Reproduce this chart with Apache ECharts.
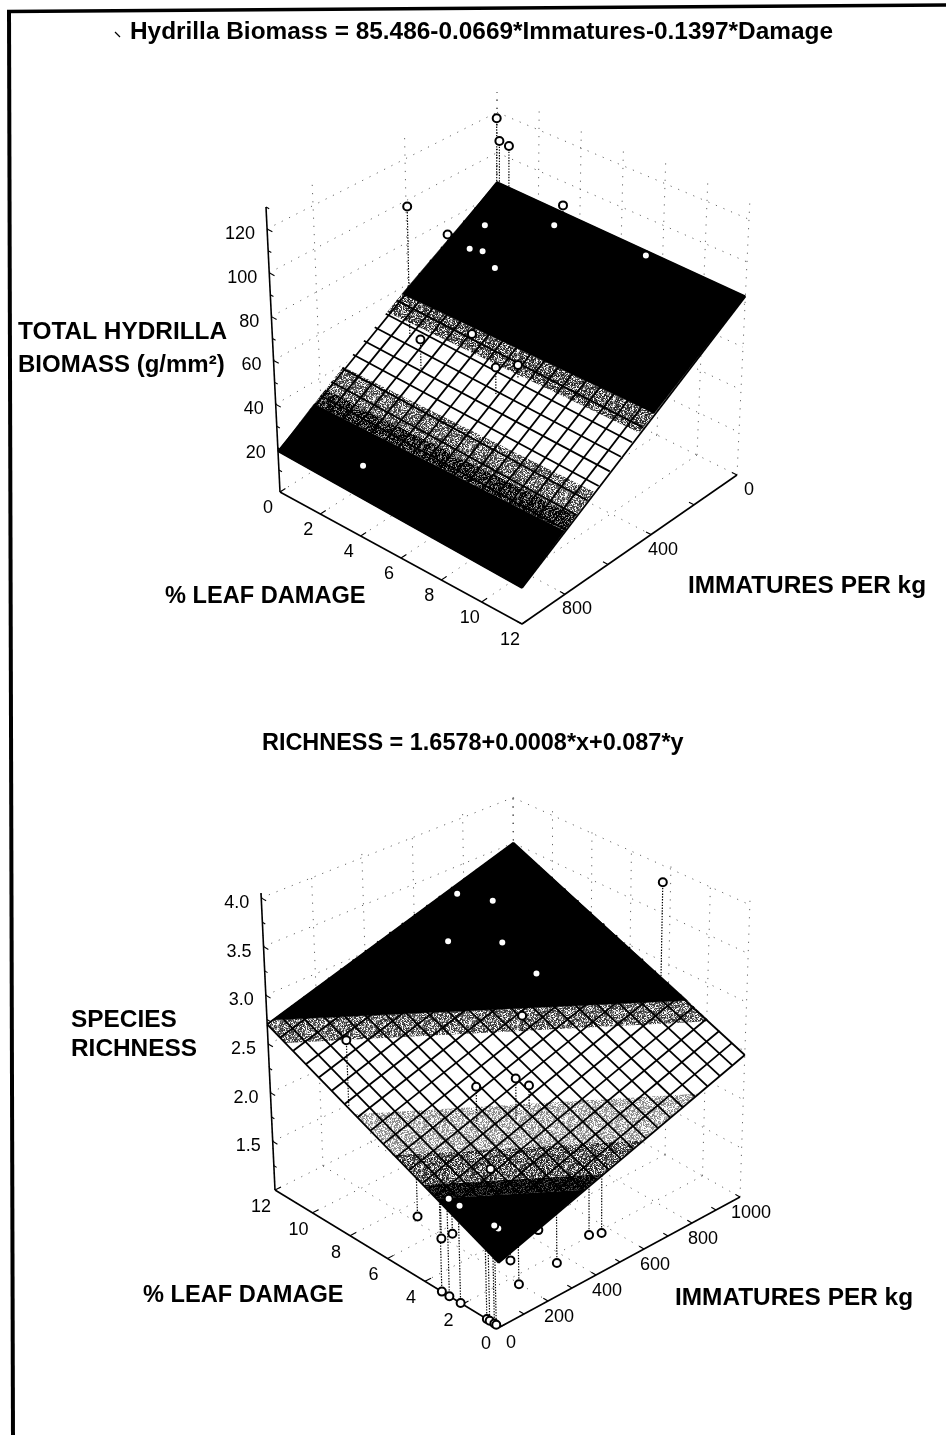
<!DOCTYPE html>
<html>
<head>
<meta charset="utf-8">
<style>html,body{margin:0;padding:0;background:#fff}#chart{width:946px;height:1435px}</style>
<script src="https://cdn.jsdelivr.net/npm/echarts@6/dist/echarts.min.js"></script>
</head>
<body>
<div id="chart"></div>
<script>
// ---------- Upper chart data ----------
const titleBiomass = 'Hydrilla Biomass = 85.486-0.0669*Immatures-0.1397*Damage';
const immatures1 = [47, 81, 131, 530, 365, 104, 228, 170, 314, 321, 331, 162, 490, 601, 559, 487, 979];
const damage1    = [0.5, 1, 2, 1.5, 1.6, 4.3, 1.9, 4.6, 2.1, 2.8, 3.5, 8.9, 4.1, 2.8, 6, 6.3, 4];
const biomass1   = [122, 115, 120, 112, 89.5, 100, 87, 96, 82, 84.5, 80.5, 100.5, 62, 60, 60, 58, 31];
const surfaceZ1 = [[85.5, 18.6], [83.8, 16.9]];   // [damage 0, 12][immatures 0, 1000]
const bandLevels1 = [0, 30, 33.5, 39, 52.5, 57, 200];
const bandShades1 = ['black', 'speck', 'mid', 'white', 'dark', 'black'];
const zTicks1 = [20, 40, 60, 80, 100, 120];
const zMinor1 = [10, 30, 50, 70, 90, 110, 130];
const dmgTicks1 = [0, 2, 4, 6, 8, 10, 12];
const immTicks1 = [0, 200, 400, 600, 800, 1000];
const immLabels1 = [0, 400, 800];

// ---------- Lower chart data ----------
const titleRichness = 'RICHNESS = 1.6578+0.0008*x+0.087*y';
const immatures2 = [961, 574, 676, 489, 620, 663, 566, 0, 256, 354, 407, 141, 15, 13, 39, 41, 194, 0, 0, 0, 48, 81, 238, 371, 423, 0, 0, 0, 0, 0, 0, 0];
const damage2    = [3.9, 9.4, 8.9, 8.8, 7.7, 6.5, 6, 7.8, 4.4, 3.6, 3.6, 2.2, 2.8, 2.2, 0.5, 0.74, 0.4, 4.3, 3.05, 2.45, 0, 0, 0, 0, 0, 3.1, 2.7, 2.1, 0.7, 0.55, 0.3, 0.2];
const richness2  = [3.92, 3.71, 3.57, 3.37, 3.32, 3.07, 2.8, 3.03, 2.63, 2.68, 2.54, 2.18, 1.97, 1.97, 1.9, 1.9, 1.69, 1.63, 1.55, 1.67, 1.62, 1.33, 1.34, 1.45, 1.4, 1, 1, 1, 1, 1, 1, 1];
const surfaceZ2 = [[1.658, 2.458], [2.702, 3.502]];
const bandLevels2 = [0, 1.94, 2.0, 2.13, 2.31, 2.62, 2.72, 9];
const bandShades2 = ['black', 'sparse', 'dark', 'light', 'white', 'mid', 'black'];
const zTicks2 = [1.5, 2.0, 2.5, 3.0, 3.5, 4.0];
const zMinor2 = [1.25, 1.75, 2.25, 2.75, 3.25, 3.75];
const dmgTicks2 = [0, 2, 4, 6, 8, 10, 12];
const immTicks2 = [0, 100, 200, 300, 400, 500, 600, 700, 800, 900, 1000];
const immLabels2 = [0, 200, 400, 600, 800, 1000];

// ---------- View set-up: how each 3-D box lies on the page plane ----------
// corners indexed [damage end][immatures end]
const view1 = {
  zMin: 0, zMax: 130, dmgMax: 12, immMax: 1000,
  floor: [[[497, 355], [280, 492]], [[737, 475], [522, 624]]],
  top:   [[[497, 92],  [266, 207]], [[750, 198], [522, 347]]],
  wallD: 0, wallI: 0, axisD: 12, axisI: 1000,
  meshD: 18, meshI: 20,
  zLabelOff: [-12, 5], dmgLabelOff: [-12, 16], immLabelOff: [12, 15],
  zFmt: v => String(v)
};
const view2 = {
  zMin: 1, zMax: 4.05, dmgMax: 12, immMax: 1000,
  floor: [[[500, 1327], [740, 1197]], [[275, 1190], [515, 1070]]],
  top:   [[[494, 1030], [750, 900]],  [[261, 893],  [513, 793]]],
  wallD: 12, wallI: 1000, axisD: 0, axisI: 0,
  meshD: 18, meshI: 20,
  zLabelOff: [-12, 5], dmgLabelOff: [-14, 17], immLabelOff: [11, 16],
  zFmt: v => v.toFixed(1)
};
// grey level and noise range of each halftone shade
const shadeGrey = { light: [205, 70], mid: [140, 85], dark: [120, 85], speck: [45, 70], sparse: [12, 40] };
const FONT = '"Liberation Sans", Arial, sans-serif';

// halftone tiles, a scanned-print look for the shaded bands
function tile(spec) {
  const n = 48, c = document.createElement('canvas');
  c.width = c.height = n;
  const g = c.getContext('2d');
  for (let y = 0; y < n; y++) for (let x = 0; x < n; x++) {
    let h = ((x + 7) * 73856093) ^ ((y + 11) * 19349663);
    h = (h ^ (h >>> 13)) * 1274126177 | 0;
    h = (h ^ (h >>> 16)) >>> 0;
    const r = (h % 1000) / 1000;
    const s = Math.max(0, Math.min(255, Math.round(spec[0] + (r * r * 2 - 0.67) * spec[1] * 1.6)));
    g.fillStyle = 'rgb(' + s + ',' + s + ',' + s + ')';
    g.fillRect(x, y, 1, 1);
  }
  return { image: c, repeat: 'repeat' };
}
const tiles = {};
Object.keys(shadeGrey).forEach(k => tiles[k] = tile(shadeGrey[k]));
const shadeFill = s => s === 'black' ? '#000' : s === 'white' ? '#fff' : tiles[s];

function project(v, imm, dmg, z) {
  const u = dmg / v.dmgMax, w = imm / v.immMax, t = (z - v.zMin) / (v.zMax - v.zMin);
  const bi = c => {
    const f = k => (1 - u) * ((1 - w) * c[0][0][k] + w * c[0][1][k]) + u * ((1 - w) * c[1][0][k] + w * c[1][1][k]);
    return [f(0), f(1)];
  };
  const a = bi(v.floor), b = bi(v.top);
  return [a[0] + (b[0] - a[0]) * t, a[1] + (b[1] - a[1]) * t];
}
function surfaceAt(zs, imm, dmg, v) {
  const u = dmg / v.dmgMax, w = imm / v.immMax;
  return (1 - u) * ((1 - w) * zs[0][0] + w * zs[0][1]) + u * ((1 - w) * zs[1][0] + w * zs[1][1]);
}
function clipBand(poly, fn, level, keepAbove) {
  const out = [];
  for (let i = 0; i < poly.length; i++) {
    const a = poly[i], b = poly[(i + 1) % poly.length];
    const fa = fn(a) - level, fb = fn(b) - level;
    const ina = keepAbove ? fa >= 0 : fa <= 0, inb = keepAbove ? fb >= 0 : fb <= 0;
    if (ina) out.push(a);
    if (ina !== inb) { const t = fa / (fa - fb); out.push([a[0] + (b[0] - a[0]) * t, a[1] + (b[1] - a[1]) * t]); }
  }
  return out;
}

// one custom series drawing a list of shapes given in page-plane values
function shapeSeries(name, items, z) {
  return {
    type: 'custom', name, coordinateSystem: 'cartesian2d', z, silent: true, clip: false,
    animation: false, data: items.map((_, i) => [i]),
    renderItem(params, api) {
      const it = items[params.dataIndex];
      if (it.text !== undefined) {
        const p = api.coord(it.at);
        return { type: 'text', style: { text: it.text, x: p[0], y: p[1], align: 'center', verticalAlign: 'middle', font: '18px ' + FONT, fill: '#000', ...(it.style || {}) } };
      }
      const points = it.pts.map(p => api.coord(p));
      return { type: it.closed ? 'polygon' : 'polyline', shape: { points }, style: it.style };
    }
  };
}

function buildPanel(v, d) {
  const P = (i, m, z) => project(v, i, m, z);
  const fit = (i, m) => surfaceAt(d.surfaceZ, i, m, v);
  const iMax = v.immMax, dMax = v.dmgMax;
  const series = [];

  // dotted walls and floor
  const dot = { stroke: '#555', lineWidth: 0.9, lineDash: [1.2, 7], fill: null };
  const walls = [];
  d.zTicks.forEach(z => {
    walls.push({ pts: [P(v.axisI, v.wallD, z), P(v.wallI, v.wallD, z)], style: dot });
    walls.push({ pts: [P(v.wallI, v.wallD, z), P(v.wallI, v.axisD, z)], style: dot });
  });
  d.immLabels.forEach(i => {
    walls.push({ pts: [P(i, v.wallD, v.zMin), P(i, v.wallD, v.zMax)], style: dot });
    walls.push({ pts: [P(i, v.wallD, v.zMin), P(i, v.axisD, v.zMin)], style: dot });
  });
  d.dmgTicks.forEach(m => {
    walls.push({ pts: [P(v.wallI, m, v.zMin), P(v.wallI, m, v.zMax)], style: dot });
    walls.push({ pts: [P(v.wallI, m, v.zMin), P(v.axisI, m, v.zMin)], style: dot });
  });
  walls.push({ pts: [P(v.wallI, v.wallD, v.zMin), P(v.wallI, v.wallD, v.zMax)], style: dot });
  series.push(shapeSeries('walls', walls, 1));

  // axes and ticks
  const axLine = { stroke: '#000', lineWidth: 1.6, fill: null };
  const tickLine = { stroke: '#000', lineWidth: 1.1, fill: null };
  const zDir = v.wallD === 0 ? 0.25 : -0.25, iDir = v.axisI === 0 ? 25 : -25, mDir = v.axisD === 0 ? 0.25 : -0.25;
  const ax = [
    { pts: [P(v.axisI, v.wallD, v.zMin), P(v.axisI, v.wallD, v.zMax)], style: axLine },
    { pts: [P(v.axisI, v.wallD, v.zMin), P(v.axisI, v.axisD, v.zMin)], style: axLine },
    { pts: [P(v.axisI, v.axisD, v.zMin), P(v.wallI, v.axisD, v.zMin)], style: axLine }
  ];
  d.zTicks.forEach(z => ax.push({ pts: [P(v.axisI, v.wallD, z), P(v.axisI, v.wallD + zDir, z)], style: tickLine }));
  d.zMinor.forEach(z => ax.push({ pts: [P(v.axisI, v.wallD, z), P(v.axisI, v.wallD + zDir * 0.6, z)], style: tickLine }));
  d.dmgTicks.forEach(m => ax.push({ pts: [P(v.axisI, m, v.zMin), P(v.axisI + iDir, m, v.zMin)], style: tickLine }));
  d.immTicks.forEach(i => ax.push({ pts: [P(i, v.axisD, v.zMin), P(i, v.axisD + mDir, v.zMin)], style: tickLine }));
  const off = (p, o) => [p[0] + o[0], p[1] + o[1]];
  d.zTicks.forEach(z => {
    ax.push({ text: v.zFmt(z), at: off(P(v.axisI, v.wallD, z), v.zLabelOff), style: { align: 'right' } });
  });
  d.dmgTicks.forEach(m => ax.push({ text: String(m), at: off(P(v.axisI, m, v.zMin), v.dmgLabelOff) }));
  d.immLabels.forEach(i => ax.push({ text: String(i), at: off(P(i, v.axisD, v.zMin), v.immLabelOff) }));
  series.push(shapeSeries('axes', ax, 1));

  // split points by side of the fitted surface
  const rows = d.imm.map((i, k) => ({ i, m: d.dmg[k], z: d.val[k], f: fit(i, d.dmg[k]) }));
  const below = rows.filter(r => r.z < r.f), above = rows.filter(r => r.z >= r.f);
  const spike = { stroke: '#000', lineWidth: 1.2, lineDash: [1.4, 1.4], fill: null };
  const spikes = list => list.map(r => ({ pts: [P(r.i, r.m, r.z), P(r.i, r.m, r.f)], style: spike }));
  const marker = { color: '#fff', borderColor: '#000', borderWidth: 2, opacity: 1 };
  const dots = (name, list, z) => ({
    type: 'scatter', name, symbol: 'circle', symbolSize: 8, z, silent: true, animation: false,
    itemStyle: marker, data: list.map(r => P(r.i, r.m, r.z))
  });
  series.push(shapeSeries('spikes below', spikes(below), 2));
  series.push(dots('points below', below, 3));

  // surface bands
  const quad = [[0, 0], [iMax, 0], [iMax, dMax], [0, dMax]];
  const fn = q => fit(q[0], q[1]);
  const bands = [];
  d.shades.forEach((s, k) => {
    let poly = clipBand(quad, fn, d.levels[k], true);
    if (poly.length) poly = clipBand(poly, fn, d.levels[k + 1], false);
    if (poly.length > 2) bands.push({ pts: poly.map(q => P(q[0], q[1], fn(q))), closed: true, style: { fill: shadeFill(s), stroke: s === 'black' ? '#000' : null, lineWidth: 0.5 } });
  });
  series.push(shapeSeries('surface', bands, 4));

  // surface mesh
  const meshStyle = { stroke: '#000', lineWidth: 1.8, fill: null };
  const mesh = [];
  const along = (from, to) => ({ pts: [P(from[0], from[1], fit(from[0], from[1])), P(to[0], to[1], fit(to[0], to[1]))], style: meshStyle });
  for (let a = 0; a <= v.meshI; a++) { const i = iMax * a / v.meshI; mesh.push(along([i, 0], [i, dMax])); }
  for (let b = 0; b <= v.meshD; b++) { const m = dMax * b / v.meshD; mesh.push(along([0, m], [iMax, m])); }
  series.push(shapeSeries('mesh', mesh, 5));

  series.push(shapeSeries('spikes above', spikes(above), 6));
  series.push(dots('points above', above, 7));
  return series;
}

const series = [
  ...buildPanel(view1, { imm: immatures1, dmg: damage1, val: biomass1, surfaceZ: surfaceZ1, levels: bandLevels1, shades: bandShades1,
    zTicks: zTicks1, zMinor: zMinor1, dmgTicks: dmgTicks1, immTicks: immTicks1, immLabels: immLabels1 }),
  ...buildPanel(view2, { imm: immatures2, dmg: damage2, val: richness2, surfaceZ: surfaceZ2, levels: bandLevels2, shades: bandShades2,
    zTicks: zTicks2, zMinor: zMinor2, dmgTicks: dmgTicks2, immTicks: immTicks2, immLabels: immLabels2 })
];

const bold = s => ({ fontFamily: 'Liberation Sans', fontWeight: 'bold', fontSize: s, color: '#000' });
const label = (text, left, top, size) => ({ type: 'text', left, top, silent: true, style: { text, fill: '#000', font: 'bold ' + size + 'px ' + FONT } });
const frame = (points, w) => ({ type: 'polyline', silent: true, shape: { points }, style: { stroke: '#000', lineWidth: w, fill: null } });

const chart = echarts.init(document.getElementById('chart'), null, { renderer: 'canvas' });
chart.setOption({
  animation: false,
  backgroundColor: '#fff',
  title: [
    { text: titleBiomass, left: 130, top: 20, padding: 0, textStyle: bold(24.4) },
    { text: titleRichness, left: 262, top: 732, padding: 0, textStyle: bold(23.45) }
  ],
  grid: { left: 0, right: 0, top: 0, bottom: 0, containLabel: false },
  xAxis: { type: 'value', min: 0, max: 946, show: false },
  yAxis: { type: 'value', min: 0, max: 1435, inverse: true, show: false },
  graphic: [
    frame([[7, 11.5], [946, 5]], 3.5),
    frame([[9, 10], [13, 1435]], 4),
    frame([[115, 32], [120, 37]], 1.2),
    label('TOTAL HYDRILLA', 18, 320, 24.4),
    label('BIOMASS (g/mm\u00B2)', 18, 353, 24),
    label('% LEAF DAMAGE', 165, 584, 23.6),
    label('IMMATURES PER kg', 688, 574, 24.4),
    label('SPECIES', 71, 1008, 24.4),
    label('RICHNESS', 71, 1037, 24.4),
    label('% LEAF DAMAGE', 143, 1283, 23.6),
    label('IMMATURES PER kg', 675, 1286, 24.4)
  ],
  series
});
</script>
</body>
</html>
